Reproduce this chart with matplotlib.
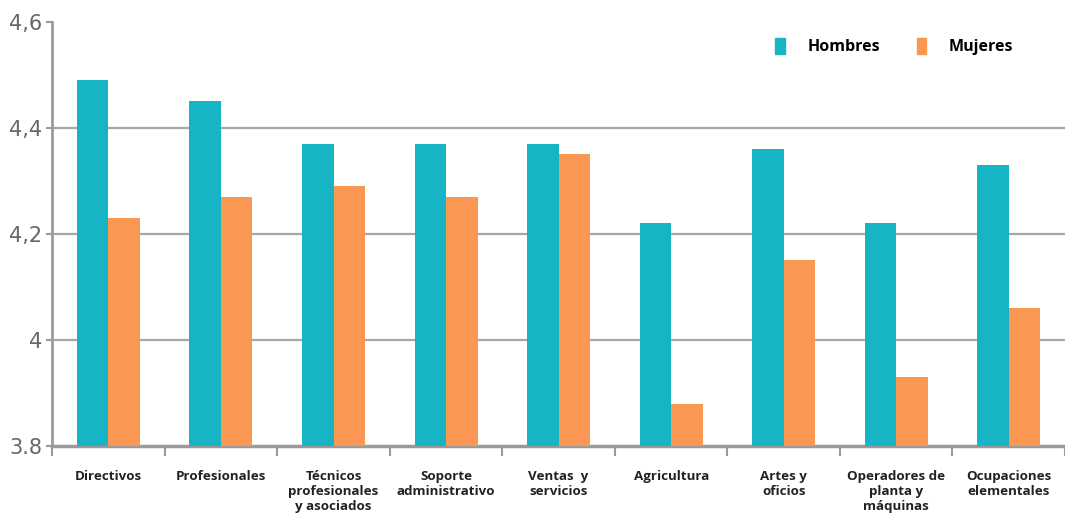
import numpy as np
import matplotlib
matplotlib.use("Agg")
import matplotlib.pyplot as plt
from matplotlib.patches import Patch

# datos
categorias = ["Directivos", "Profesionales", "Técnicos\nprofesionales\ny asociados",
              "Soporte\nadministrativo", "Ventas  y\nservicios", "Agricultura",
              "Artes y\noficios", "Operadores de\nplanta y\nmáquinas", "Ocupaciones\nelementales"]
hombres = [4.49, 4.45, 4.37, 4.37, 4.37, 4.22, 4.36, 4.22, 4.33]
mujeres = [4.23, 4.27, 4.29, 4.27, 4.35, 3.88, 4.15, 3.93, 4.06]
y_ticks = [3.8, 4.0, 4.2, 4.4, 4.6]
y_labels = ["3.8", "4", "4,2", "4,4", "4,6"]

c_h = "#17B4C6"
c_m = "#FA9752"
gris = "#9a9a9a"

fig = plt.figure(figsize=(10.65, 5.21), dpi=100)
ax = fig.add_axes([0.049, 0.144, 0.951, 0.814])

x = np.arange(len(categorias))
w = 0.28
ax.bar(x - w / 2, hombres, w, color=c_h, zorder=3)
ax.bar(x + w / 2, mujeres, w, color=c_m, zorder=3)

ax.set_ylim(3.8, 4.6)
ax.set_xlim(-0.5, len(categorias) - 0.5)
ax.set_yticks(y_ticks)
ax.set_yticklabels(y_labels, fontsize=15, color="#666666",
                   family=["Liberation Sans Narrow", "DejaVu Sans"])
for v in y_ticks[1:4]:
    ax.axhline(v, color="#a8a8a8", lw=1.6, zorder=1)

# ticks de categoria en los limites
ax.set_xticks(np.arange(len(categorias) + 1) - 0.5)
ax.set_xticklabels([])
ax.tick_params(axis="x", length=7, width=1.5, color=gris, direction="out")
ax.tick_params(axis="y", length=4, width=1.5, color=gris, pad=3)
for i, lab in enumerate(categorias):
    ax.text(i, 3.755, lab, ha="center", va="top", fontsize=9.6, fontweight="bold",
            color="#222222", linespacing=1.2, family=["Open Sans", "DejaVu Sans"])

for s in ["top", "right"]:
    ax.spines[s].set_visible(False)
ax.spines["left"].set_color(gris)
ax.spines["left"].set_linewidth(2)
ax.spines["bottom"].set_color(gris)
ax.spines["bottom"].set_linewidth(2.5)

handles = [Patch(color=c_h, label="Hombres"), Patch(color=c_m, label="Mujeres")]
ax.legend(handles=handles, loc="upper right", bbox_to_anchor=(0.963, 0.995), ncol=2,
          frameon=False, handlelength=0.6, handleheight=1.1, columnspacing=2.3,
          handletextpad=1.4, prop={"family": "Open Sans", "weight": "bold", "size": 11.5})

plt.savefig("out.png", dpi=100)
plt.close()
